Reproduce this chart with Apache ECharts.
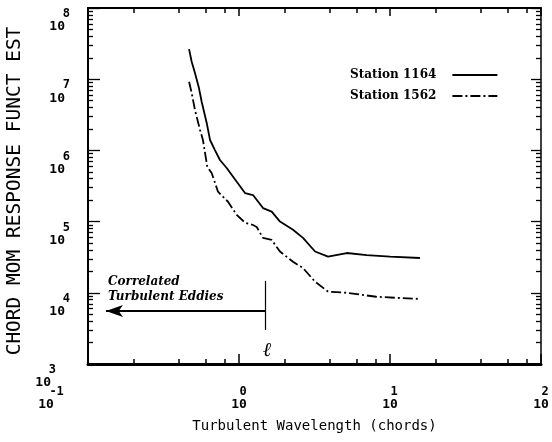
<!DOCTYPE html>
<html><head><meta charset="utf-8">
<script src="https://cdn.jsdelivr.net/npm/echarts@6/dist/echarts.min.js"></script>
<style>html,body{margin:0;padding:0;background:#fff}#c{width:552px;height:442px}</style>
</head><body><div id="c"></div>
<script>
// ---- data ----
const xMajorTicks = [0.1, 1, 10, 100];
const xMinorTicks = [0.2, 0.4, 0.6, 0.8, 2, 4, 6, 8, 20, 40, 60, 80];
const yMajorTicks = [1e3, 1e4, 1e5, 1e6, 1e7, 1e8];
const yMinorTicks = [2e3,3e3,4e3,5e3,6e3,7e3,8e3,9e3, 2e4,3e4,4e4,5e4,6e4,7e4,8e4,9e4,
  2e5,3e5,4e5,5e5,6e5,7e5,8e5,9e5, 2e6,3e6,4e6,5e6,6e6,7e6,8e6,9e6, 2e7,3e7,4e7,5e7,6e7,7e7,8e7,9e7];

const seriesNames = ['Station 1164', 'Station 1562'];
const wavelength1164 = [0.467, 0.486, 0.511, 0.543, 0.566, 0.611, 0.643, 0.693, 0.748, 0.829, 0.966, 1.096, 1.238, 1.442, 1.646, 1.868, 2.279, 2.653, 3.19, 3.89, 5.17, 7.01, 10.0, 15.8];
const response1164   = [2.65e7, 1.76e7, 1.22e7, 7.5e6, 4.83e6, 2.43e6, 1.40e6, 1.01e6, 7.33e5, 5.66e5, 3.63e5, 2.52e5, 2.36e5, 1.55e5, 1.38e5, 1.0e5, 7.7e4, 5.9e4, 3.8e4, 3.22e4, 3.62e4, 3.39e4, 3.22e4, 3.08e4];
const wavelength1562 = [0.467, 0.486, 0.511, 0.552, 0.577, 0.617, 0.659, 0.726, 0.846, 0.966, 1.096, 1.238, 1.31, 1.442, 1.646, 1.868, 2.279, 2.653, 3.19, 3.89, 5.17, 8.1, 11.6, 15.8];
const response1562   = [9.2e6, 6.4e6, 3.69e6, 1.94e6, 1.40e6, 5.85e5, 4.82e5, 2.63e5, 1.9e5, 1.24e5, 9.66e4, 8.96e4, 8.4e4, 5.9e4, 5.52e4, 3.8e4, 2.73e4, 2.23e4, 1.43e4, 1.04e4, 1.0e4, 8.8e3, 8.45e3, 8.2e3];

// annotation (in data units)
const lengthScale = 1.486;
const arrowLevel = 5550;
const arrowTip = 0.1315;
const barTop = 1.47e4, barBottom = 3000;

const zip = (a, b) => a.map((v, i) => [v, b[i]]);
const lg = (arr) => arr.map(v => Math.log10(v));
const mono = 'DejaVu Sans Mono';

const chart = echarts.init(document.getElementById('c'), null, {renderer: 'canvas'});
const gridRect = () => ({left: 88, top: 8, right: 11, bottom: 78, containLabel: false, outerBoundsMode: 'none'});

function xLabelFmt(v) {
  const e = Math.round(Math.log10(v));
  if (e === -1) return '{e1|-1}\n{b1|10}';
  return '{e|' + e + '}\n{b|10}';
}
function yLabelFmt(v) {
  const e = Math.round(Math.log10(v));
  if (e === 3) return '{e3|3}\n{b3|10}';
  return '{e|' + e + '}\n{b|10}';
}
const tok = (fs, lh, pad) => ({fontFamily: mono, fontSize: fs, fontWeight: 'bold', lineHeight: lh, align: 'right', color: '#000', padding: pad || 0});
const richX = {e: tok(12, 12), b: tok(13, 14), e1: tok(12, 12, [0, 74, 0, 0]), b1: tok(13, 14, [0, 84, 0, 0])};
const richY = {e: tok(12, 12), b: tok(13, 14, [0, 5, 0, 0]), e3: tok(12, 12, [0, 14, 0, 0]), b3: tok(13, 14, [0, 19, 0, 0])};

// tick-only axes (log-space value axes laid over the same grid)
function tickX(grid, pos, ticks, len, lineW) {
  return {gridIndex: grid, type: 'value', min: -1, max: 2, position: pos,
    axisLine: {show: !!lineW, onZero: false, lineStyle: {color: '#000', width: lineW || 1}},
    splitLine: {show: false}, axisLabel: {show: false},
    axisTick: {show: true, inside: true, length: len, customValues: lg(ticks), lineStyle: {color: '#000', width: 1.5}}};
}
function tickY(grid, pos, ticks, len, lineW) {
  return {gridIndex: grid, type: 'value', min: 3, max: 8, position: pos,
    axisLine: {show: !!lineW, onZero: false, lineStyle: {color: '#000', width: lineW || 1}},
    splitLine: {show: false}, axisLabel: {show: false},
    axisTick: {show: true, inside: true, length: len, customValues: lg(ticks), lineStyle: {color: '#000', width: 1.3}}};
}

const option = {
  animation: false,
  backgroundColor: '#fff',
  grid: [gridRect(), gridRect(), gridRect()],
  xAxis: [
    {gridIndex: 0, type: 'log', logBase: 10, min: 0.1, max: 100, position: 'bottom',
     axisLine: {show: true, onZero: false, lineStyle: {color: '#000', width: 3}}, splitLine: {show: false},
     axisTick: {show: false},
     axisLabel: {customValues: xMajorTicks, formatter: xLabelFmt, rich: richX, margin: 22, verticalAlign: 'top', align: 'center'},
     name: 'Turbulent Wavelength (chords)', nameLocation: 'middle', nameGap: 55,
     nameTextStyle: {fontFamily: mono, fontSize: 14, color: '#000'}},
    tickX(1, 'bottom', xMajorTicks, 10, 0),
    tickX(1, 'top', xMajorTicks, 8, 2),
    tickX(2, 'bottom', xMinorTicks, 5, 0),
    tickX(2, 'top', xMinorTicks, 5, 0)
  ],
  yAxis: [
    {gridIndex: 0, type: 'log', logBase: 10, min: 1e3, max: 1e8, position: 'left',
     axisLine: {show: true, onZero: false, lineStyle: {color: '#000', width: 2}}, splitLine: {show: false},
     axisTick: {show: false},
     axisLabel: {customValues: yMajorTicks, formatter: yLabelFmt, rich: richY, margin: 18, verticalAlign: 'top', align: 'right'},
     name: 'CHORD MOM RESPONSE FUNCT EST', nameLocation: 'middle', nameGap: 57,
     nameTextStyle: {fontFamily: mono, fontSize: 19.5, color: '#000', padding: [0, 10, 0, 0]}},
    tickY(1, 'left', yMajorTicks, 12, 0),
    tickY(1, 'right', yMajorTicks, 10, 1.5),
    tickY(2, 'left', yMinorTicks, 5, 0),
    tickY(2, 'right', yMinorTicks, 5, 0)
  ],
  legend: {
    orient: 'vertical', left: 345, top: 64, align: 'right',
    itemWidth: 45, itemHeight: 1, itemGap: 9,
    textStyle: {fontFamily: 'DejaVu Serif', fontWeight: 'bold', fontSize: 12, color: '#000', padding: [0, 11, 0, 0]},
    data: seriesNames
  },
  series: [
    {name: seriesNames[0], type: 'line', xAxisIndex: 0, yAxisIndex: 0, symbol: 'none',
     data: zip(wavelength1164, response1164),
     lineStyle: {color: '#000', width: 1.8},
     itemStyle: {color: '#000'},
     markLine: {
       silent: true, animation: false, label: {show: false},
       lineStyle: {color: '#000', type: 'solid', width: 2},
       data: [
         [{coord: [lengthScale, arrowLevel], symbol: 'none'}, {coord: [arrowTip, arrowLevel], symbol: 'arrow', symbolSize: [9, 17]}],
         [{coord: [lengthScale, barTop], symbol: 'none', lineStyle: {width: 1.2}}, {coord: [lengthScale, barBottom], symbol: 'none'}]
       ]
     }},
    {name: seriesNames[1], type: 'line', xAxisIndex: 0, yAxisIndex: 0, symbol: 'none',
     data: zip(wavelength1562, response1562),
     lineStyle: {color: '#000', width: 1.8, type: [10, 3, 2, 3]},
     itemStyle: {color: '#000'}}
  ],
  graphic: [
    {type: 'text', left: 108, top: 276, style: {text: 'Correlated', font: 'italic bold 12px "DejaVu Serif"', fill: '#000'}},
    {type: 'text', left: 108, top: 291, style: {text: 'Turbulent Eddies', font: 'italic bold 12px "DejaVu Serif"', fill: '#000'}},
    {type: 'text', left: 263, top: 341, style: {text: 'ℓ', font: 'italic bold 20px "DejaVu Serif"', fill: '#000'}}
  ]
};
chart.setOption(option);
</script></body></html>
